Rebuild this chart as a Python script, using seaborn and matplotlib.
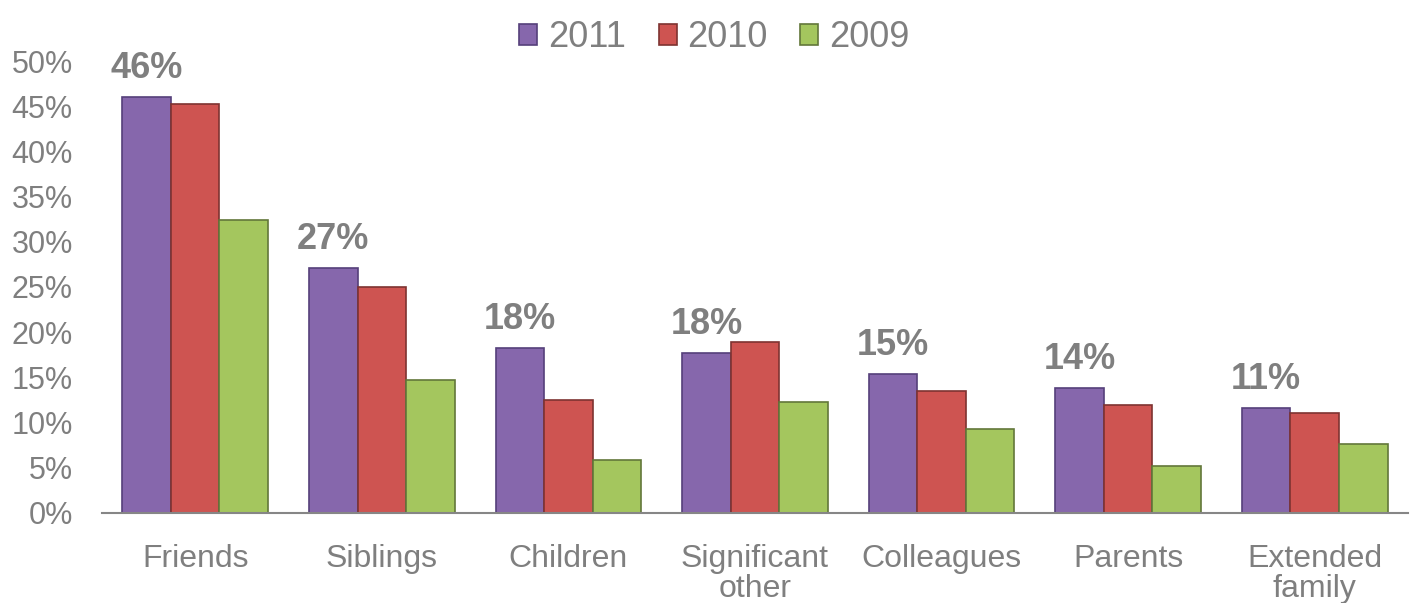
import pandas as pd
import numpy as np
import matplotlib
matplotlib.use("Agg")
import matplotlib.pyplot as plt
import seaborn as sns

# data
categories = ["Friends", "Siblings", "Children", "Significant\nother",
              "Colleagues", "Parents", "Extended\nfamily"]
years = ["2011", "2010", "2009"]
v2011 = [46.0, 27.1, 18.3, 17.7, 15.4, 13.8, 11.6]
v2010 = [45.3, 25.0, 12.5, 18.9, 13.5, 12.0, 11.1]
v2009 = [32.4, 14.7, 5.9, 12.3, 9.3, 5.2, 7.6]
top_labels = ["46%", "27%", "18%", "18%", "15%", "14%", "11%"]

colors = ["#8667AC", "#CE5451", "#A4C65E"]
edges = ["#55407A", "#7E3331", "#62773A"]

df = pd.DataFrame({
    "cat": categories * 3,
    "year": [y for y in years for _ in categories],
    "val": v2011 + v2010 + v2009,
})

sns.set_style("white")
plt.rcParams['font.family'] = ['Liberation Sans', 'DejaVu Sans']

fig = plt.figure(figsize=(14.12, 6.03), dpi=100)
ax = fig.add_axes([0.0722, 0.1493, 0.925, 0.7495])

sns.barplot(data=df, x="cat", y="val", hue="year", order=categories,
            hue_order=years, palette=colors, width=0.78, saturation=1,
            ax=ax, legend=False)

# darker rim for the bevelled look
for i, cont in enumerate(ax.containers):
    for bar in cont:
        bar.set_edgecolor(edges[i])
        bar.set_linewidth(1.2)

# bold labels above the 2011 bars
for bar, lab in zip(ax.containers[0], top_labels):
    ax.text(bar.get_x() + bar.get_width() / 2, bar.get_height() + 1.2, lab,
            ha="center", va="bottom", fontsize=26, fontweight="bold",
            color="#7F7F7F")

ax.set_ylim(0, 50)
ax.set_xlim(-0.5, len(categories) - 0.5)
ax.set_yticks(np.arange(0, 51, 5))
ax.set_yticklabels([f"{t}%" for t in range(0, 51, 5)])
ax.set_xlabel("")
ax.set_ylabel("")
ax.tick_params(axis="y", length=0, pad=21, labelsize=22, labelcolor="#7F7F7F")
ax.tick_params(axis="x", which="major", length=0, pad=22, labelsize=23,
               labelcolor="#7F7F7F")
ax.set_xticks(np.arange(-0.5, len(categories), 1), minor=True)
ax.tick_params(axis="x", which="minor", length=9, width=1.5, color="#868686",
               direction="out")
for lab in ax.get_xticklabels():
    lab.set_linespacing(1.0)

for s in ["top", "right", "left"]:
    ax.spines[s].set_visible(False)
ax.spines["bottom"].set_color("#868686")
ax.spines["bottom"].set_linewidth(1.5)

handles = [plt.Rectangle((0, 0), 1, 1, facecolor=c, edgecolor=e, linewidth=1.2)
           for c, e in zip(colors, edges)]
fig.legend(handles, years, loc="upper center", bbox_to_anchor=(0.506, 1.02),
           ncol=3, frameon=False, fontsize=26, labelcolor="#7F7F7F",
           handlelength=0.5, handleheight=0.5, handletextpad=0.3,
           columnspacing=0.9)

fig.savefig("out.png", dpi=100)
